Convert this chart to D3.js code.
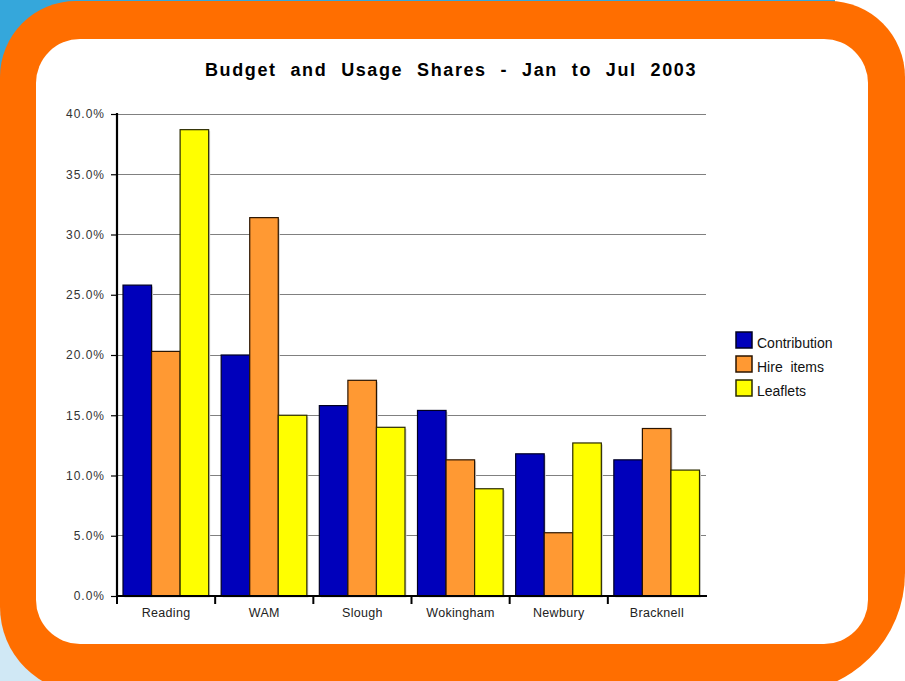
<!DOCTYPE html>
<html><head><meta charset="utf-8">
<script src="https://cdn.jsdelivr.net/npm/d3@7/dist/d3.min.js"></script>
<style>body{margin:0;padding:0;overflow:hidden;background:#fff}svg{display:block}</style>
</head><body>
<svg id="chart" width="905" height="681"></svg>
<script>
const categories = ["Reading","WAM","Slough","Wokingham","Newbury","Bracknell"];
const seriesNames = ["Contribution","Hire  items","Leaflets"];
const contribution = [25.8, 20.0, 15.8, 15.4, 11.8, 11.3];
const hireItems    = [20.3, 31.4, 17.9, 11.3, 5.25, 13.9];
const leaflets     = [38.7, 15.0, 14.0, 8.9, 12.7, 10.45];
const yTicks = [0,5,10,15,20,25,30,35,40];
const colors = ["#0000BB","#FF9933","#FFFF00"];
const strokes = ["#000022","#2a1400","#2a2a00"];
const title = "Budget and Usage Shares - Jan to Jul 2003";

const svg = d3.select("#chart");
const W = 905, H = 681;

// background
svg.append("rect").attr("x",0).attr("y",0).attr("width",W).attr("height",H).attr("fill","#fff");
svg.append("rect").attr("x",0).attr("y",0).attr("width",835).attr("height",340).attr("fill","#35A7DB");
svg.append("rect").attr("x",0).attr("y",340).attr("width",835).attr("height",341).attr("fill","#D0E8F5");

// orange frame (rounded rect with per-corner radii: tl, tr, br, bl)
function rr(x,y,w,h,tl,tr,br,bl){
  return `M${x+tl},${y} H${x+w-tr} A${tr},${tr} 0 0 1 ${x+w},${y+tr} V${y+h-br} A${br},${br} 0 0 1 ${x+w-br},${y+h} H${x+bl} A${bl},${bl} 0 0 1 ${x},${y+h-bl} V${y+tl} A${tl},${tl} 0 0 1 ${x+tl},${y} Z`;
}
svg.append("path").attr("d", rr(0,1,905,692,76,76,120,86)).attr("fill","#FF6E00");
svg.append("path").attr("d", rr(36,39,832,605,44,44,44,44)).attr("fill","#fff");

// title
const t = svg.append("text").attr("x",451).attr("y",76).attr("text-anchor","middle")
  .attr("font-family","'Liberation Sans', Arial, sans-serif").attr("font-weight","bold")
  .attr("font-size","18px").attr("letter-spacing","1.6px").attr("fill","#000").text(title);
const tw = t.node().getComputedTextLength();
const nSpaces = title.split(" ").length - 1;
t.attr("word-spacing", Math.max(0,(492 - tw)/nSpaces) + "px");

// scales
const x0 = d3.scaleBand().domain(categories).range([117,706]).padding(0);
const x1 = d3.scaleBand().domain(d3.range(3)).range([6, x0.bandwidth()-6.5]).padding(0);
const y = d3.scaleLinear().domain([0,40]).range([596,114]);

// gridlines
svg.append("g").selectAll("line").data(yTicks.slice(1)).join("line")
  .attr("x1",117).attr("x2",706).attr("y1",d=>y(d)).attr("y2",d=>y(d))
  .attr("stroke","#808080").attr("stroke-width",1).attr("shape-rendering","crispEdges");

// bars
const seriesVals = [contribution, hireItems, leaflets];
const data = [];
categories.forEach((c,i)=>seriesVals.forEach((s,j)=>data.push({c, j, v:s[i]})));
const gb = svg.append("g");
gb.selectAll("rect.sh").data(data).join("rect").attr("class","sh")
  .attr("x",d=>x0(d.c)+x1(d.j)+1.5).attr("y",d=>y(d.v)+1.5)
  .attr("width",x1.bandwidth()).attr("height",d=>y(0)-y(d.v))
  .attr("fill","#d4d4d4");
gb.selectAll("rect.bar").data(data).join("rect").attr("class","bar")
  .attr("x",d=>x0(d.c)+x1(d.j)).attr("y",d=>y(d.v))
  .attr("width",x1.bandwidth()).attr("height",d=>y(0)-y(d.v))
  .attr("fill",d=>colors[d.j]).attr("stroke",d=>strokes[d.j]).attr("stroke-width",1.2);

// y axis
const yAxis = d3.axisLeft(y).tickValues(yTicks).tickSize(6).tickPadding(6)
  .tickFormat(d=>d3.format(".1f")(d)+"%");
const gy = svg.append("g").attr("transform","translate(117,0)").call(yAxis);
gy.select(".domain").attr("stroke","#000").attr("stroke-width",2.2).attr("d","M0,113V597");
gy.selectAll(".tick line").attr("stroke","#000").attr("stroke-width",1.2);
gy.selectAll(".tick text").attr("font-family","'Liberation Sans', Arial, sans-serif")
  .attr("font-size","12px").attr("letter-spacing","1px").attr("fill","#333");

// x axis
const xAxis = d3.axisBottom(x0).tickSize(0).tickPadding(12);
const gx = svg.append("g").attr("transform","translate(0,596)").call(xAxis);
gx.select(".domain").attr("stroke","#000").attr("stroke-width",2.2).attr("d","M116,0H707");
gx.selectAll(".tick text").attr("font-family","'Liberation Sans', Arial, sans-serif")
  .attr("font-size","12.5px").attr("letter-spacing","0.3px").attr("fill","#222");
svg.append("g").selectAll("line").data(categories).join("line")
  .attr("x1",d=>x0(d)).attr("x2",d=>x0(d)).attr("y1",596).attr("y2",604)
  .attr("stroke","#000").attr("stroke-width",2);

// legend
const lg = svg.append("g");
seriesNames.forEach((n,i)=>{
  const yy = 332 + i*24;
  lg.append("rect").attr("x",736).attr("y",yy).attr("width",16).attr("height",16)
    .attr("fill",colors[i]).attr("stroke",strokes[i]).attr("stroke-width",1.5);
  lg.append("text").attr("x",757).attr("y",yy+16).attr("xml:space","preserve")
    .style("white-space","pre")
    .attr("font-family","'Liberation Sans', Arial, sans-serif").attr("font-size","14px")
    .attr("fill","#111").text(n);
});
</script>
</body></html>
